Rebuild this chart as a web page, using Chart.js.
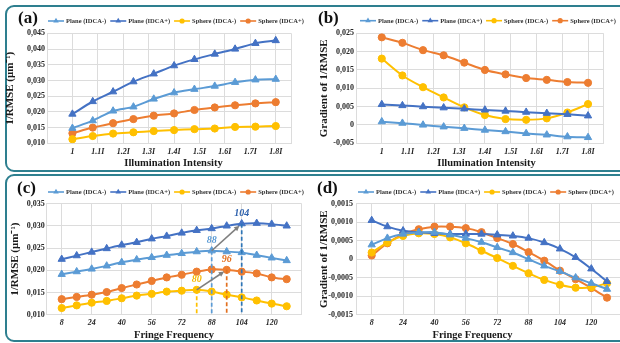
<!DOCTYPE html>
<html>
<head>
<meta charset="utf-8">
<script src="https://cdn.jsdelivr.net/npm/chart.js@4.4.1/dist/chart.umd.min.js"></script>
<style>
  html, body { margin: 0; padding: 0; background: #fff; }
  body { width: 620px; height: 343px; position: relative; overflow: hidden; }
  .box { position: absolute; left: 5px; width: 660px; border: 2px solid #2e7f8f; border-radius: 9px; box-sizing: border-box; }
  canvas { position: absolute; }
  .tag { position: absolute; font: bold 17px "Liberation Serif", serif; color: #111; line-height: 1; }
</style>
</head>
<body>
<div class="box" style="top:5px;height:167px"></div>
<div class="box" style="top:174px;height:168px"></div>
<canvas id="chartA" width="310" height="172" style="left:0;top:0"></canvas>
<canvas id="chartB" width="310" height="172" style="left:310px;top:0"></canvas>
<canvas id="chartC" width="310" height="171" style="left:0;top:172px"></canvas>
<canvas id="chartD" width="320" height="171" style="left:310px;top:172px"></canvas>
<div class="tag" style="left:18px;top:9px">(a)</div>
<div class="tag" style="left:318px;top:9px">(b)</div>
<div class="tag" style="left:17px;top:179px">(c)</div>
<div class="tag" style="left:317px;top:179px">(d)</div>
<script>
// x values
const intensity = [1, 1.08, 1.16, 1.24, 1.32, 1.40, 1.48, 1.56, 1.64, 1.72, 1.80];
const intensityTicks = [1, 1.1, 1.2, 1.3, 1.4, 1.5, 1.6, 1.7, 1.8];
const intensityLabels = ['1', '1.1I', '1.2I', '1.3I', '1.4I', '1.5I', '1.6I', '1.7I', '1.8I'];
const fringe = [8, 16, 24, 32, 40, 48, 56, 64, 72, 80, 88, 96, 104, 112, 120, 128];
const fringeTicks = [8, 24, 40, 56, 72, 88, 104, 120];

const seriesNames = ['Plane (IDCA-)', 'Plane (IDCA+)', 'Sphere (IDCA-)', 'Sphere (IDCA+)'];

// (a) 1/RMSE vs illumination intensity
const aPlaneMinus = [0.0148, 0.0172, 0.0203, 0.0216, 0.0241, 0.0261, 0.0272, 0.0282, 0.0294, 0.0302, 0.0304];
const aPlanePlus = [0.0193, 0.0233, 0.0264, 0.0296, 0.0321, 0.0347, 0.0367, 0.0384, 0.0400, 0.0418, 0.0427];
const aSphereMinus = [0.0113, 0.0123, 0.0131, 0.0135, 0.0139, 0.0142, 0.0145, 0.0147, 0.0152, 0.0153, 0.0155];
const aSpherePlus = [0.0132, 0.0150, 0.0164, 0.0177, 0.0188, 0.0195, 0.0206, 0.0214, 0.0221, 0.0227, 0.0231];

// (b) gradient vs illumination intensity
const bPlaneMinus = [0.0009, 0.0005, 0.0000, -0.0005, -0.0009, -0.0014, -0.0018, -0.0023, -0.0027, -0.0032, -0.0034];
const bPlanePlus = [0.0056, 0.0053, 0.0050, 0.0047, 0.0044, 0.0041, 0.0038, 0.0035, 0.0032, 0.0029, 0.0025];
const bSphereMinus = [0.0181, 0.0135, 0.0103, 0.0075, 0.0048, 0.0027, 0.0016, 0.0014, 0.0018, 0.0034, 0.0057];
const bSpherePlus = [0.0239, 0.0224, 0.0204, 0.0190, 0.0170, 0.0150, 0.0138, 0.0128, 0.0123, 0.0117, 0.0115];

// (c) 1/RMSE vs fringe frequency
const cPlaneMinus = [0.0191, 0.0197, 0.0203, 0.0210, 0.0218, 0.0224, 0.0229, 0.0234, 0.0238, 0.0242, 0.0244, 0.0242, 0.0240, 0.0234, 0.0228, 0.0222];
const cPlanePlus = [0.0225, 0.0233, 0.0241, 0.0249, 0.0257, 0.0263, 0.0271, 0.0277, 0.0284, 0.0290, 0.0294, 0.0300, 0.0305, 0.0306, 0.0304, 0.0300];
const cSphereMinus = [0.0115, 0.0121, 0.0127, 0.0131, 0.0137, 0.0143, 0.0147, 0.0152, 0.0154, 0.0156, 0.0152, 0.0145, 0.0139, 0.0132, 0.0125, 0.0119];
const cSpherePlus = [0.0135, 0.0140, 0.0145, 0.0151, 0.0160, 0.0168, 0.0176, 0.0184, 0.0190, 0.0197, 0.0202, 0.0201, 0.0197, 0.0193, 0.0184, 0.0180];

// peaks marked in (c)
const peakLabels = ['80', '88', '96', '104'];
const peakFreqs = [80, 88, 96, 104];

// (d) gradient vs fringe frequency
const dPlaneMinus = [0.00039, 0.00057, 0.00068, 0.00072, 0.00073, 0.00066, 0.00057, 0.00046, 0.00032, 0.00018, 0.00000, -0.00018, -0.00033, -0.00050, -0.00065, -0.00081];
const dPlanePlus = [0.00105, 0.00088, 0.00077, 0.00073, 0.00070, 0.00068, 0.00068, 0.00068, 0.00066, 0.00063, 0.00057, 0.00045, 0.00028, 0.00005, -0.00026, -0.00060];
const dSphereMinus = [0.00018, 0.00045, 0.00063, 0.00070, 0.00068, 0.00059, 0.00043, 0.00023, 0.00003, -0.00018, -0.00038, -0.00056, -0.00069, -0.00077, -0.00076, -0.00065];
const dSpherePlus = [0.00010, 0.00043, 0.00068, 0.00081, 0.00088, 0.00088, 0.00084, 0.00073, 0.00057, 0.00041, 0.00019, -0.00004, -0.00031, -0.00054, -0.00078, -0.00104];

const colors = ['#5b9bd5', '#4472c4', '#ffc000', '#ed7d31'];
const styles = ['triangle', 'triangle', 'circle', 'circle'];
const serif = '"Liberation Serif", "Times New Roman", serif';

Chart.defaults.font.family = serif;

function makeSets(xs, lists) {
  return lists.map((vals, i) => ({
    label: seriesNames[i],
    data: xs.map((x, k) => ({ x: x, y: vals[k] })),
    borderColor: colors[i],
    backgroundColor: colors[i],
    pointStyle: styles[i],
    pointRadius: styles[i] === 'triangle' ? 4.2 : 3.6,
    pointBorderWidth: 1,
    borderWidth: 2,
    tension: 0.3
  }));
}

function decimalComma(digits) {
  return v => Math.abs(v) < 1e-9 ? '0' : v.toFixed(digits).replace('.', ',');
}

// legend drawn as line + marker, like the office-style original
const lineLegend = {
  id: 'lineLegend',
  afterDraw(chart, args, opts) {
    const ctx = chart.ctx;
    let x = opts.x;
    const y = opts.y;
    ctx.save();
    ctx.font = 'bold 6.5px ' + serif;
    ctx.textBaseline = 'middle';
    chart.data.datasets.forEach(ds => {
      ctx.strokeStyle = ds.borderColor;
      ctx.fillStyle = ds.borderColor;
      ctx.lineWidth = 1.6;
      ctx.beginPath();
      ctx.moveTo(x, y);
      ctx.lineTo(x + 16, y);
      ctx.stroke();
      ctx.beginPath();
      if (ds.pointStyle === 'triangle') {
        const r = 3.2;
        ctx.moveTo(x + 8, y - r);
        ctx.lineTo(x + 8 + r * 0.87, y + r * 0.5);
        ctx.lineTo(x + 8 - r * 0.87, y + r * 0.5);
        ctx.closePath();
      } else {
        ctx.arc(x + 8, y, 2.6, 0, Math.PI * 2);
      }
      ctx.fill();
      ctx.fillStyle = '#333';
      ctx.fillText(ds.label, x + 18, y + 0.5);
      x += 18 + ctx.measureText(ds.label).width + 4;
    });
    ctx.restore();
  }
};

// x axis title, centred where the original puts it
const xTitle = {
  id: 'xTitle',
  afterDraw(chart, args, opts) {
    const ctx = chart.ctx;
    ctx.save();
    ctx.font = 'bold 10.5px ' + serif;
    ctx.fillStyle = '#1a1a1a';
    ctx.textAlign = 'center';
    ctx.textBaseline = 'middle';
    ctx.fillText(opts.text, opts.cx, opts.cy);
    ctx.restore();
  }
};

// dashed drop lines, peak labels and arrows for (c)
const peakMarks = {
  id: 'peakMarks',
  afterDatasetsDraw(chart, args, opts) {
    if (!opts.sets) return;
    const ctx = chart.ctx;
    const xs = chart.scales.x, ys = chart.scales.y;
    const pts = peakFreqs.map((f, i) => {
      const ds = chart.data.datasets[opts.sets[i]];
      const p = ds.data.find(d => d.x === f);
      return { x: xs.getPixelForValue(f), y: ys.getPixelForValue(p.y) };
    });
    ctx.save();
    ctx.lineWidth = 1.7;
    ctx.setLineDash([4, 2.5]);
    pts.forEach((p, i) => {
      ctx.strokeStyle = opts.lineColors[i];
      ctx.beginPath();
      ctx.moveTo(p.x, p.y);
      ctx.lineTo(p.x, chart.chartArea.bottom);
      ctx.stroke();
    });
    ctx.setLineDash([]);
    ctx.strokeStyle = '#7f7f7f';
    ctx.fillStyle = '#7f7f7f';
    ctx.lineWidth = 1.6;
    opts.arrows.forEach(([a, b]) => {
      const p = pts[a], q = pts[b];
      const ang = Math.atan2(q.y - p.y, q.x - p.x);
      const ex = q.x - Math.cos(ang) * 3, ey = q.y - Math.sin(ang) * 3;
      ctx.beginPath();
      ctx.moveTo(p.x, p.y);
      ctx.lineTo(ex - Math.cos(ang) * 4, ey - Math.sin(ang) * 4);
      ctx.stroke();
      ctx.beginPath();
      ctx.moveTo(ex, ey);
      ctx.lineTo(ex - Math.cos(ang - 0.45) * 6, ey - Math.sin(ang - 0.45) * 6);
      ctx.lineTo(ex - Math.cos(ang + 0.45) * 6, ey - Math.sin(ang + 0.45) * 6);
      ctx.closePath();
      ctx.fill();
    });
    ctx.font = 'italic bold 10px ' + serif;
    ctx.textAlign = 'center';
    ctx.textBaseline = 'middle';
    pts.forEach((p, i) => {
      ctx.fillStyle = opts.labelColors[i];
      ctx.fillText(peakLabels[i], p.x, p.y - 10);
    });
    ctx.restore();
  }
};

function makeChart(id, c) {
  const gridColor = '#dcdcdc';
  return new Chart(document.getElementById(id), {
    type: 'line',
    data: { datasets: c.datasets },
    options: {
      responsive: false,
      animation: false,
      layout: { padding: { left: 0, top: c.top, right: c.right, bottom: 0 } },
      plugins: {
        legend: { display: false },
        tooltip: { enabled: false },
        lineLegend: { x: c.legendX, y: c.legendY },
        xTitle: { text: c.xText, cx: c.xcx, cy: c.xcy },
        peakMarks: c.peaks || {}
      },
      scales: {
        x: {
          type: 'linear',
          min: c.xMin,
          max: c.xMax,
          afterBuildTicks: s => { s.ticks = [c.xMin].concat(c.xTicks, [c.xMax]).map(v => ({ value: v })); },
          afterFit: s => { s.height = c.xh; },
          ticks: {
            autoSkip: false,
            maxRotation: 0,
            padding: 3.5,
            color: '#262626',
            font: { size: 8, weight: 'bold', style: 'italic' },
            callback: v => {
              const i = c.xTicks.findIndex(t => Math.abs(t - v) < 1e-6);
              return i < 0 ? '' : c.xLabels[i];
            }
          },
          grid: { color: gridColor, drawTicks: false },
          border: { color: gridColor }
        },
        y: {
          min: c.yMin,
          max: c.yMax,
          afterFit: s => { s.width = c.yw; },
          ticks: {
            stepSize: c.yStep,
            padding: c.yPad,
            color: '#262626',
            font: { size: 8, weight: 'bold' },
            callback: decimalComma(c.yDigits)
          },
          grid: { color: gridColor, drawTicks: false },
          border: { color: gridColor },
          title: {
            display: true,
            text: c.yText,
            color: '#1a1a1a',
            font: { size: 11, weight: 'bold' },
            padding: { top: c.yTitlePad, bottom: 0 }
          }
        }
      }
    },
    plugins: [lineLegend, xTitle, peakMarks]
  });
}

makeChart('chartA', {
  datasets: makeSets(intensity, [aPlaneMinus, aPlanePlus, aSphereMinus, aSpherePlus]),
  top: 33.3, right: 19, yw: 47, xh: 28.7,
  xMin: 0.9, xMax: 1.86, xTicks: intensityTicks, xLabels: intensityLabels,
  yMin: 0.01, yMax: 0.045, yStep: 0.005, yDigits: 3, yPad: 2,
  yText: '1/RMSE (μm⁻¹)', yTitlePad: 4,
  xText: 'Illumination Intensity', xcx: 173.5, xcy: 163,
  legendX: 48, legendY: 21
});

makeChart('chartB', {
  datasets: makeSets(intensity, [bPlaneMinus, bPlanePlus, bSphereMinus, bSpherePlus]),
  top: 33.3, right: 16.5, yw: 46, xh: 28.7,
  xMin: 0.9, xMax: 1.86, xTicks: intensityTicks, xLabels: intensityLabels,
  yMin: -0.005, yMax: 0.025, yStep: 0.005, yDigits: 3, yPad: 2,
  yText: 'Gradient of 1/RMSE', yTitlePad: 8,
  xText: 'Illumination Intensity', xcx: 176.5, xcy: 163,
  legendX: 50, legendY: 20.7
});

makeChart('chartC', {
  datasets: makeSets(fringe, [cPlaneMinus, cPlanePlus, cSphereMinus, cSpherePlus]),
  top: 31.7, right: 8.3, yw: 46.7, xh: 28.3,
  xMin: 0, xMax: 136, xTicks: fringeTicks, xLabels: fringeTicks.map(String),
  yMin: 0.01, yMax: 0.035, yStep: 0.005, yDigits: 3, yPad: 2,
  yText: '1/RMSE (μm⁻¹)', yTitlePad: 9,
  xText: 'Fringe Frequency', xcx: 174, xcy: 163,
  legendX: 48, legendY: 20,
  peaks: {
    sets: [2, 0, 3, 1],
    lineColors: ['#ffc000', '#5b9bd5', '#e2701f', '#2e75b6'],
    labelColors: ['#f5b800', '#5b9bd5', '#e2701f', '#2f62ad'],
    arrows: [[1, 3], [0, 2]]
  }
});

makeChart('chartD', {
  datasets: makeSets(fringe, [dPlaneMinus, dPlanePlus, dSphereMinus, dSpherePlus]),
  top: 31.7, right: 7.3, yw: 46, xh: 28.3,
  xMin: 0, xMax: 136, xTicks: fringeTicks, xLabels: fringeTicks.map(String),
  yMin: -0.0015, yMax: 0.0015, yStep: 0.0005, yDigits: 4, yPad: 3,
  yText: 'Gradient of 1/RMSE', yTitlePad: 7.5,
  xText: 'Fringe Frequency', xcx: 162.5, xcy: 163,
  legendX: 48, legendY: 20
});
</script>
</body>
</html>
